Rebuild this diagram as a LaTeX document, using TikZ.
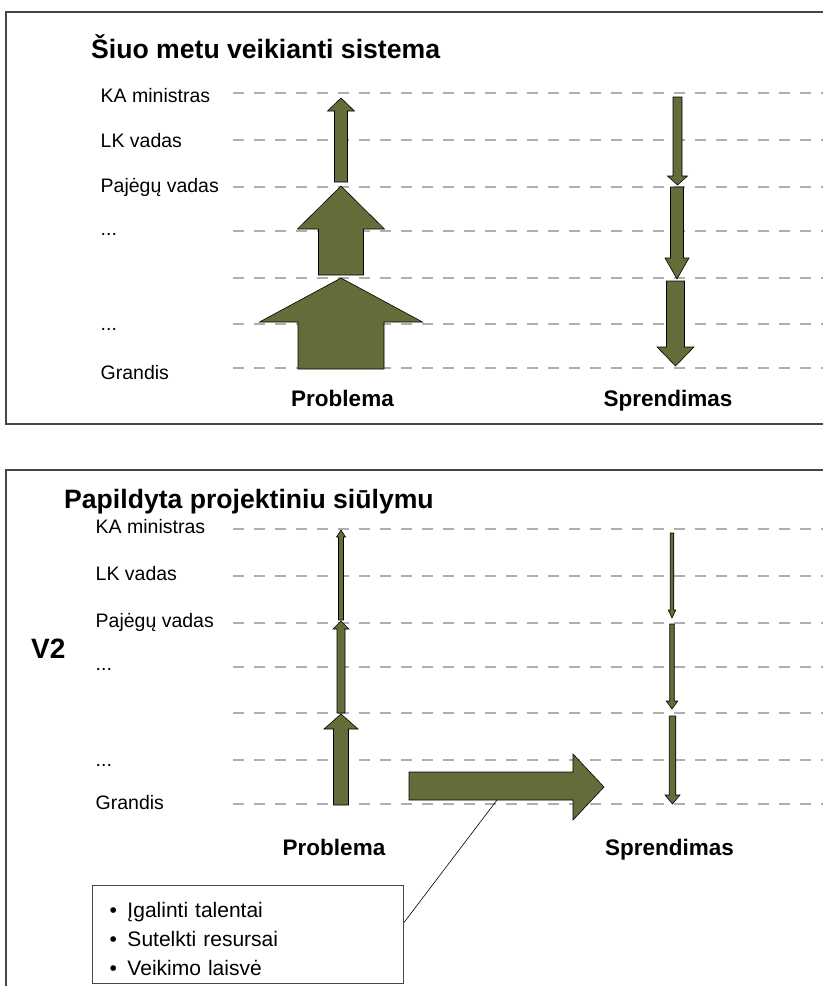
\documentclass[tikz,border=0pt]{standalone}
\usepackage{fontspec}
\setmainfont{Liberation Sans}
\definecolor{olivefill}{RGB}{102,107,58}
\definecolor{levelgray}{RGB}{175,175,175}
\definecolor{framegray}{RGB}{70,70,70}
\tikzset{
  level/.style={font={\fontsize{19.5}{22}\selectfont},inner sep=0pt,anchor=base west},
  heading/.style={font={\fontsize{26.6}{30}\selectfont\bfseries},inner sep=0pt,anchor=base west},
  colhead/.style={font={\fontsize{22.5}{26}\selectfont\bfseries},inner sep=0pt,anchor=base},
  levelline/.style={levelgray,line width=1.2pt,dash pattern=on 11pt off 10pt},
  blockarrow/.style={fill=olivefill,draw=black,line width=0.6pt,line join=miter},
  panel/.style={framegray,line width=1.5pt},
}
\begin{document}
\begin{tikzpicture}[x=1pt,y=-1pt]
\useasboundingbox (0,0) rectangle (823,986);

% upper panel
\draw[panel] (823,12) -- (6,12) -- (6,424) -- (823,424);
\node[heading] (title1) at (91,58) {Šiuo metu veikianti sistema};

\draw[levelline] (233,93) -- (823,93);
\draw[levelline] (233,140) -- (823,140);
\draw[levelline] (233,187) -- (823,187);
\draw[levelline] (233,231) -- (823,231);
\draw[levelline] (233,278) -- (823,278);
\draw[levelline] (233,324) -- (823,324);
\draw[levelline] (233,368) -- (823,368);

\node[level] (ka1) at (100.5,102) {KA ministras};
\node[level] (lk1) at (100.5,147) {LK vadas};
\node[level] (paj1) at (100.5,192) {Pajėgų vadas};
\node[level] (dotsa1) at (100.5,235) {...};
\node[level] (dotsb1) at (100.5,330) {...};
\node[level] (grandis1) at (100.5,379) {Grandis};

\draw[blockarrow] (334.5,182) -- (334.5,111) -- (327.5,111) -- (341,98) -- (354.5,111) -- (347.5,111) -- (347.5,182) -- cycle;
\draw[blockarrow] (318.5,275) -- (318.5,229) -- (297.5,229) -- (341,186) -- (384.5,229) -- (363.5,229) -- (363.5,275) -- cycle;
\draw[blockarrow] (298,369) -- (298,322) -- (259.5,322) -- (341,278) -- (422.5,322) -- (384,322) -- (384,369) -- cycle;

\draw[blockarrow] (673,97) -- (673,176) -- (667.5,176) -- (677.5,185) -- (687.5,176) -- (682,176) -- (682,97) -- cycle;
\draw[blockarrow] (670.5,187) -- (670.5,258) -- (665,258) -- (677,279) -- (689,258) -- (683.5,258) -- (683.5,187) -- cycle;
\draw[blockarrow] (666.5,281) -- (666.5,347) -- (657,347) -- (675.5,366) -- (694,347) -- (684.5,347) -- (684.5,281) -- cycle;

\node[colhead] (problem1) at (342.5,406) {Problema};
\node[colhead] (solution1) at (668,406) {Sprendimas};

% lower panel
\draw[panel] (823,470) -- (6,470) -- (6,986);
\node[heading] (title2) at (64,508) {Papildyta projektiniu siūlymu};
\node[heading,font={\fontsize{28}{30}\selectfont\bfseries}] (version) at (31,658) {V2};

\draw[levelline] (233,529) -- (823,529);
\draw[levelline] (233,576) -- (823,576);
\draw[levelline] (233,623) -- (823,623);
\draw[levelline] (233,667) -- (823,667);
\draw[levelline] (233,713) -- (823,713);
\draw[levelline] (233,760) -- (823,760);
\draw[levelline] (233,804) -- (823,804);

\node[level] (ka2) at (95.5,533) {KA ministras};
\node[level] (lk2) at (95.5,580) {LK vadas};
\node[level] (paj2) at (95.5,627) {Pajėgų vadas};
\node[level] (dotsa2) at (95.5,670) {...};
\node[level] (dotsb2) at (95.5,766) {...};
\node[level] (grandis2) at (95.5,809) {Grandis};

\draw[blockarrow] (338.5,620) -- (338.5,537) -- (336.5,537) -- (341,530) -- (345.5,537) -- (343.5,537) -- (343.5,620) -- cycle;
\draw[blockarrow] (337,713) -- (337,629) -- (333,629) -- (341,621) -- (349,629) -- (345,629) -- (345,713) -- cycle;
\draw[blockarrow] (333.5,805) -- (333.5,729) -- (324,729) -- (341,714) -- (358,729) -- (348.5,729) -- (348.5,805) -- cycle;

\draw[blockarrow] (670.25,533) -- (670.25,610) -- (668.25,610) -- (672,618) -- (675.75,610) -- (673.75,610) -- (673.75,533) -- cycle;
\draw[blockarrow] (669.75,624) -- (669.75,701) -- (666.25,701) -- (672,709) -- (677.75,701) -- (674.25,701) -- (674.25,624) -- cycle;
\draw[blockarrow] (669.25,716) -- (669.25,795) -- (665,795) -- (672.5,804) -- (680,795) -- (675.75,795) -- (675.75,716) -- cycle;

\draw[blockarrow] (409,772) -- (573,772) -- (573,754) -- (604,787) -- (573,820) -- (573,800) -- (409,800) -- cycle;
\coordinate (callout) at (497,800);

\node[colhead] (problem2) at (334,855) {Problema};
\node[colhead] (solution2) at (669.5,855) {Sprendimas};

\node[draw=framegray,line width=1pt,anchor=north west,text width=277pt,inner xsep=17pt,inner ysep=5pt,align=left,
  font={\fontsize{21}{29}\selectfont}] (gains) at (92,885)
  {\rule{0pt}{27pt}\makebox[18pt][l]{\textbullet}Įgalinti talentai\\
   \makebox[18pt][l]{\textbullet}Sutelkti resursai\\
   \makebox[18pt][l]{\textbullet}Veikimo laisvė\rule[-3pt]{0pt}{3pt}};
\draw[black,line width=0.6pt] (callout) -- ([yshift=12pt]gains.east);

\end{tikzpicture}
\end{document}
